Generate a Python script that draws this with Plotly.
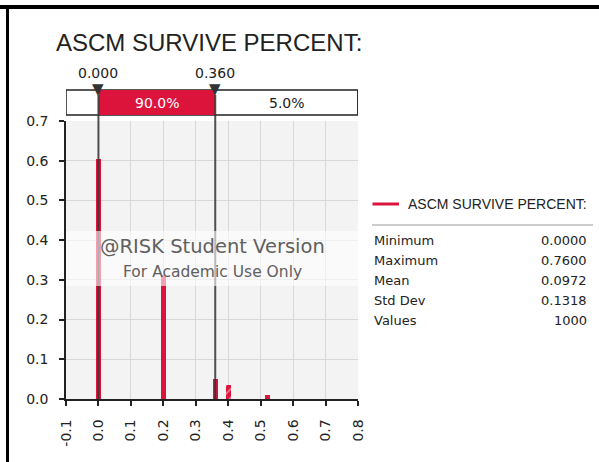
import plotly.graph_objects as go

# ---------------- data ----------------
series_name = "ASCM SURVIVE PERCENT:"
bin_centers = [0.00, 0.20, 0.36, 0.40, 0.52]
probabilities = [0.605, 0.312, 0.050, 0.035, 0.010]
bar_patterns = ["", "", "", "/", ""]
bar_width = 0.015

delimiters = [0.000, 0.360]
delimiter_labels = ["0.000", "0.360"]
region_labels = ["90.0%", "5.0%"]

x_tick_vals = [-0.1, 0.0, 0.1, 0.2, 0.3, 0.4, 0.5, 0.6, 0.7, 0.8]
x_tick_labels = ["-0.1", "0.0", "0.1", "0.2", "0.3", "0.4", "0.5", "0.6", "0.7", "0.8"]
y_tick_vals = [0.0, 0.1, 0.2, 0.3, 0.4, 0.5, 0.6, 0.7]
y_tick_labels = ["0.0", "0.1", "0.2", "0.3", "0.4", "0.5", "0.6", "0.7"]

stat_names = ["Minimum", "Maximum", "Mean", "Std Dev", "Values"]
stat_values = ["0.0000", "0.7600", "0.0972", "0.1318", "1000"]

watermark_lines = ["@RISK Student Version", "For Academic Use Only"]

# ---------------- style ----------------
RED = "#DC143C"
DARK = "#222222"
W, H = 599, 462
L, R, T, B = 66, 241, 121, 63
PW, PH = W - L - R, H - T - B


def px(xp):
    return (xp - L) / PW


def py(yp):
    return (H - B - yp) / PH


FONT = "DejaVu Sans"

fig = go.Figure()
fig.add_trace(go.Bar(
    x=bin_centers, y=probabilities, width=bar_width,
    marker=dict(color=RED, line=dict(width=0),
                pattern=dict(shape=bar_patterns, fgcolor="white", bgcolor=RED,
                             fillmode="overlay", size=6, solidity=0.25)),
    name=series_name, showlegend=False,
))

shapes = []
annotations = []

# outer frame (top and left)
shapes.append(dict(type="line", xref="paper", yref="paper",
                   x0=px(0), x1=px(W), y0=py(7), y1=py(7),
                   line=dict(color="black", width=4)))
shapes.append(dict(type="line", xref="paper", yref="paper",
                   x0=px(7.5), x1=px(7.5), y0=py(5), y1=py(H),
                   line=dict(color="black", width=3)))

# delimiter bar on top
box_top, box_bot = py(90), py(115)
shapes.append(dict(type="rect", xref="x", yref="paper",
                   x0=x_tick_vals[0], x1=x_tick_vals[-1], y0=box_bot, y1=box_top,
                   fillcolor="white", line=dict(color=DARK, width=1.5)))
shapes.append(dict(type="rect", xref="x", yref="paper",
                   x0=delimiters[0], x1=delimiters[1], y0=box_bot, y1=box_top,
                   fillcolor=RED, line=dict(width=0)))
shapes.append(dict(type="line", xref="x", yref="paper",
                   x0=x_tick_vals[-1], x1=x_tick_vals[-1], y0=box_bot, y1=box_top,
                   line=dict(color=DARK, width=1.5)))

# delimiter lines
for d in delimiters:
    shapes.append(dict(type="line", xref="x", yref="paper",
                       x0=d, x1=d, y0=0, y1=py(95),
                       line=dict(color="rgba(50,50,50,0.85)", width=2)))

# watermark band
shapes.append(dict(type="rect", xref="x", yref="paper",
                   x0=x_tick_vals[0], x1=x_tick_vals[-1], y0=py(286), y1=py(231),
                   fillcolor="rgba(255,255,255,0.6)", line=dict(width=0)))

# legend line + separator
shapes.append(dict(type="line", xref="paper", yref="paper",
                   x0=px(372.5), x1=px(399), y0=py(204), y1=py(204),
                   line=dict(color=RED, width=3)))
shapes.append(dict(type="line", xref="paper", yref="paper",
                   x0=px(372), x1=px(593), y0=py(225), y1=py(225),
                   line=dict(color="#999999", width=1)))

# title
annotations.append(dict(xref="paper", yref="paper", x=px(54), y=py(42),
                        xanchor="left", yanchor="middle", showarrow=False,
                        text=series_name,
                        font=dict(family="Liberation Sans", size=24, color=DARK)))

# delimiter labels & triangles
for d, lab in zip(delimiters, delimiter_labels):
    annotations.append(dict(xref="x", yref="paper", x=d, y=py(73),
                            xanchor="center", yanchor="middle", showarrow=False,
                            text=lab, font=dict(family=FONT, size=14, color=DARK)))
    annotations.append(dict(xref="x", yref="paper", x=d, y=py(89),
                            xanchor="center", yanchor="middle", showarrow=False,
                            text="▼", font=dict(family=FONT, size=15, color="#333333")))

# region percentages
annotations.append(dict(xref="x", yref="paper", x=(delimiters[0] + delimiters[1]) / 2,
                        y=(box_top + box_bot) / 2, xanchor="center", yanchor="middle",
                        showarrow=False, text=region_labels[0],
                        font=dict(family=FONT, size=14, color="white")))
annotations.append(dict(xref="x", yref="paper", x=(delimiters[1] + x_tick_vals[-1]) / 2,
                        y=(box_top + box_bot) / 2, xanchor="center", yanchor="middle",
                        showarrow=False, text=region_labels[1],
                        font=dict(family=FONT, size=14, color=DARK)))

# watermark text
annotations.append(dict(xref="paper", yref="paper", x=0.5, y=py(246),
                        xanchor="center", yanchor="middle", showarrow=False,
                        text=watermark_lines[0],
                        font=dict(family=FONT, size=19.5, color="#606060")))
annotations.append(dict(xref="paper", yref="paper", x=0.5, y=py(272),
                        xanchor="center", yanchor="middle", showarrow=False,
                        text=watermark_lines[1],
                        font=dict(family=FONT, size=15.5, color="#606060")))

# legend text
annotations.append(dict(xref="paper", yref="paper", x=px(406), y=py(204),
                        xanchor="left", yanchor="middle", showarrow=False,
                        text=series_name,
                        font=dict(family="Liberation Sans", size=14, color=DARK)))

# stats table
for i, (n, v) in enumerate(zip(stat_names, stat_values)):
    yy = py(240 + 20 * i)
    annotations.append(dict(xref="paper", yref="paper", x=px(372), y=yy,
                            xanchor="left", yanchor="middle", showarrow=False,
                            text=n, font=dict(family=FONT, size=13, color=DARK)))
    annotations.append(dict(xref="paper", yref="paper", x=px(589), y=yy,
                            xanchor="right", yanchor="middle", showarrow=False,
                            text=v, font=dict(family=FONT, size=13, color=DARK)))

fig.update_layout(
    width=W, height=H,
    margin=dict(l=L, r=R, t=T, b=B, pad=0),
    paper_bgcolor="white", plot_bgcolor="#f3f3f3",
    bargap=0, showlegend=False,
    shapes=shapes, annotations=annotations,
    xaxis=dict(range=[x_tick_vals[0], x_tick_vals[-1]], tickmode="array",
               tickvals=x_tick_vals, ticktext=x_tick_labels, tickangle=-90,
               ticks="outside", ticklen=5, tickwidth=1.5, tickcolor=DARK,
               showline=True, linecolor=DARK, linewidth=1.5,
               showgrid=True, gridcolor="#d8d8d8", gridwidth=1, zeroline=False,
               ticklabelstandoff=8,
               tickfont=dict(family=FONT, size=14, color=DARK)),
    yaxis=dict(range=[y_tick_vals[0], y_tick_vals[-1]], tickmode="array",
               tickvals=y_tick_vals, ticktext=y_tick_labels,
               ticks="outside", ticklen=5, tickwidth=1.5, tickcolor=DARK,
               showline=True, linecolor=DARK, linewidth=1.5,
               showgrid=True, gridcolor="#d8d8d8", gridwidth=1, zeroline=False,
               ticklabelstandoff=8,
               tickfont=dict(family=FONT, size=14, color=DARK)),
)

fig.write_html("out.html", config={"displayModeBar": False},
               post_script="document.body.style.margin='0';document.body.style.overflow='hidden';")
